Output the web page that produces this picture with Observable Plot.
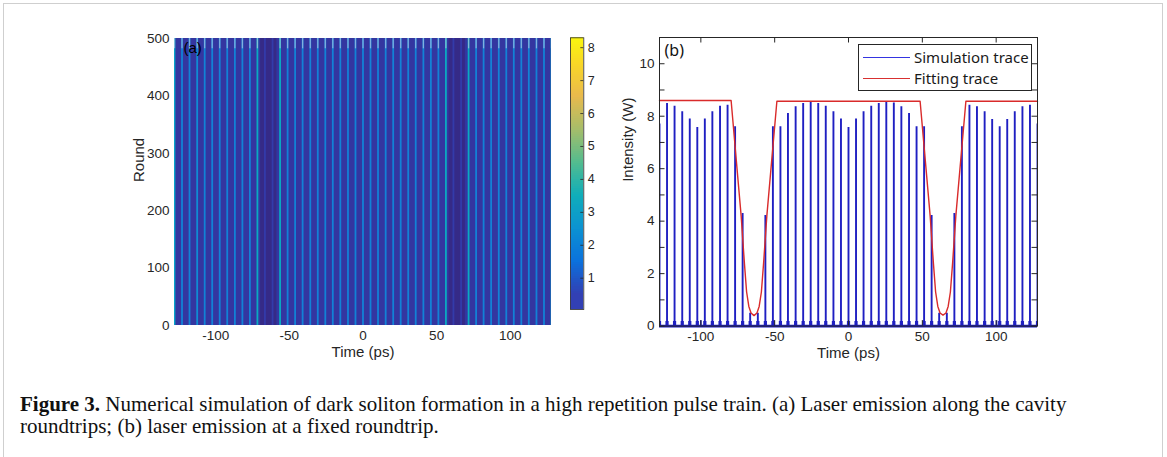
<!DOCTYPE html>
<html>
<head>
<meta charset="utf-8">
<script src="https://cdn.jsdelivr.net/npm/d3@7"></script>
<script src="https://cdn.jsdelivr.net/npm/@observablehq/plot@0.6"></script>
<style>
html, body { margin: 0; padding: 0; background: #fff; }
#fig { position: relative; width: 1167px; height: 457px; overflow: hidden; background: #fff; }
#border { position: absolute; left: 3px; top: 3px; width: 1158px; height: 480px; border: 1px solid #cfcfcf; }
.panel { position: absolute; }
#legend { position: absolute; left: 858px; top: 44px; width: 172px; height: 45px; border: 1px solid #262626; background: #fff;
  font-family: "Noto Sans", sans-serif; font-size: 15px; color: #1a1a1a; }
#legend .row { position: absolute; left: 4px; height: 20px; }
#legend .ln { position: absolute; left: 0; top: 10px; width: 47px; }
#legend .lt { position: absolute; left: 51px; top: 0; line-height: 20px; white-space: nowrap; }
#caption { position: absolute; left: 20px; top: 393px; font-family: "Liberation Serif", serif; font-size: 19.5px; line-height: 22px; color: #111; white-space: nowrap; }
</style>
</head>
<body>
<div id="fig">
  <div id="border"></div>
  <div id="left" class="panel" style="left:100px; top:20px;"></div>
  <div id="cbar" class="panel" style="left:555px; top:20px;"></div>
  <div id="right" class="panel" style="left:600px; top:20px;"></div>
  <div id="legend">
    <div class="row" style="top:2px;"><span class="ln" style="border-top:1.2px solid #3434e0;"></span><span class="lt">Simulation trace</span></div>
    <div class="row" style="top:23px;"><span class="ln" style="border-top:1.5px solid #d83030;"></span><span class="lt">Fitting trace</span></div>
  </div>
  <div id="caption"><span id="cap1"><b>Figure 3.</b> Numerical simulation of dark soliton formation in a high repetition pulse train. (a) Laser emission along the cavity</span><br><span>roundtrips; (b) laser emission at a fixed roundtrip.</span></div>
</div>
<script>
// ---------------- data ----------------
const timeDomain = [-128, 128];
const roundDomain = [0, 500];
const intensityDomain = [0, 11];
const colorDomain = [0.05, 8.3];

const xTicks = [-100, -50, 0, 50, 100];
const roundTicks = [0, 100, 200, 300, 400, 500];
const intensityLabelTicks = [0, 2, 4, 6, 8, 10];
const intensityMinorTicks = [0, 1, 2, 3, 4, 5, 6, 7, 8, 9, 10, 11];
const colorTicks = [1, 2, 3, 4, 5, 6, 7, 8];

// pulse centres (ps) and peak intensity (W) at the fixed roundtrip
const pulseTimes = [-128, -122.9, -117.8, -112.6, -107.5, -102.4, -97.3, -92.2, -87.0, -81.9,
  -76.8, -71.7, -66.6, -61.4, -56.3, -51.2, -46.1, -41.0, -35.8, -30.7,
  -25.6, -20.5, -15.4, -10.2, -5.1, 0, 5.1, 10.2, 15.4, 20.5,
  25.6, 30.7, 35.8, 41.0, 46.1, 51.2, 56.3, 61.4, 66.6, 71.7,
  76.8, 81.9, 87.0, 92.2, 97.3, 102.4, 107.5, 112.6, 117.8, 122.9, 128];
const pulsePeaks = [7.7, 8.48, 8.38, 8.17, 7.89, 7.57, 7.89, 8.17, 8.38, 8.42,
  7.6, 4.29, 0.49, 0.49, 4.22, 7.6, 7.6, 8.1, 8.36, 8.48,
  8.55, 8.48, 8.38, 8.17, 7.89, 7.57, 7.89, 8.17, 8.38, 8.48,
  8.55, 8.5, 8.36, 8.1, 7.6, 7.6, 4.22, 0.49, 0.49, 4.29,
  7.6, 8.42, 8.36, 8.17, 7.87, 7.6, 7.87, 8.17, 8.36, 8.42, 7.7];
// apparent colour level of each pulse stripe in the round map (a)
const stripeLevels = [3.0, 2.0, 2.0, 2.3, 2.0, 2.0, 2.0, 2.0, 2.0, 2.0,
  2.0, 3.3, 0.4, 0.4, 3.3, 2.0, 2.0, 2.0, 2.0, 2.0,
  2.0, 2.0, 2.0, 2.0, 2.0, 2.0, 2.0, 2.0, 2.0, 2.0,
  2.0, 2.0, 2.0, 2.0, 2.0, 2.0, 3.3, 0.4, 0.4, 3.3,
  2.0, 2.0, 2.0, 2.0, 2.0, 2.0, 2.0, 2.0, 2.0, 2.0, 3.0];
const pedestalHeight = 0.18;
// small satellite spikes
const spikeTimes = [-100, -50.6, 50.8, 100.3];
const spikePeaks = [0.2, 0.2, 0.2, 0.2];

// fitting trace
const fitTimes = [-128, -79.5, -75.5, -72.7, -70.5, -69, -67.5, -66, -64, -62, -60.5, -59, -57.5, -55.3, -52.5, -48.5,
  48.5, 52.5, 55.3, 57.5, 59, 60.5, 62, 64, 66, 67.5, 69, 70.5, 72.7, 75.5, 79.5, 128];
const fitValues = [8.6, 8.6, 6.0, 4.2, 2.4, 1.3, 0.75, 0.5, 0.4, 0.5, 0.75, 1.3, 2.4, 4.2, 6.0, 8.57,
  8.57, 6.0, 4.2, 2.4, 1.3, 0.75, 0.5, 0.42, 0.5, 0.75, 1.3, 2.4, 4.2, 6.0, 8.57, 8.57];

// background levels of the round map
const bandStarts = [-128, -69.5, 58.5];
const bandEnds = [128, -58.5, 69.5];
const bandLevels = [0.3, 0.05, 0.05];
const topRounds = [482, 500];

// parula colormap stops
const parula = ["#352a87", "#3243ba", "#0363e1", "#0d75dc", "#1485d4", "#0998d1", "#06a7c6", "#15b1b4",
  "#38b99e", "#65be86", "#92bf73", "#b7bd64", "#d9ba56", "#f8ba44", "#fcce2e", "#f5e41d", "#f9fb0e"];

// ---------------- tables ----------------
const pulses = pulseTimes.map((t, i) => ({t, h: pulsePeaks[i], lvl: stripeLevels[i]}));
const spikes = spikeTimes.map((t, i) => ({t, h: spikePeaks[i]}));
const fit = fitTimes.map((t, i) => ({t, v: fitValues[i]}));
const bands = bandStarts.map((t1, i) => ({t1, t2: bandEnds[i], r1: roundDomain[0], r2: roundDomain[1], lvl: bandLevels[i]}));

const ink = "#262626";
const blue = "#1f1fc2";
const red = "#d92b2b";
const tickFont = 13.5;
const labelFont = 15;
const colorScale = {type: "linear", domain: colorDomain, interpolate: d3.piecewise(d3.interpolateRgb, parula)};
const baseStyle = {background: "transparent", fontFamily: "'Liberation Sans', Arial, sans-serif", fontSize: tickFont + "px", color: ink, overflow: "visible"};
const fmt = d => String(d);

// ---------------- (a) round map ----------------
{
  const W = 470, H = 360, mL = 74, mR = 19, mT = 18, mB = 55;
  const chart = Plot.plot({
    width: W, height: H, marginLeft: mL, marginRight: mR, marginTop: mT, marginBottom: mB,
    style: baseStyle,
    x: {domain: timeDomain, label: null},
    y: {domain: roundDomain, label: null},
    color: colorScale,
    marks: [
      Plot.rect(bands, {x1: "t1", x2: "t2", y1: "r1", y2: "r2", fill: "lvl"}),
      Plot.ruleX(pulses, {x: "t", stroke: "lvl", strokeWidth: 1.8, clip: true}),
      Plot.ruleX(pulses.filter(d => d.lvl > 1), {x: "t", y1: topRounds[0], y2: topRounds[1], stroke: "#c9cfe6", strokeOpacity: 0.6, strokeWidth: 1.3, clip: true}),
      Plot.axisX(xTicks, {tickSize: 0, tickPadding: 5, tickFormat: fmt, label: null, fontSize: tickFont}),
      Plot.axisY(roundTicks, {tickSize: 0, tickPadding: 5, tickFormat: fmt, label: null, fontSize: tickFont}),
      Plot.text(["(a)"], {frameAnchor: "top-left", lineAnchor: "middle", dx: 9, dy: 10, textAnchor: "start", fontSize: 15, fill: "#000"}),
      Plot.text(["Time (ps)"], {frameAnchor: "bottom", lineAnchor: "middle", dy: 27, fontSize: labelFont, fill: ink}),
      Plot.text(["Round"], {frameAnchor: "left", lineAnchor: "middle", dx: -35, rotate: -90, fontSize: labelFont, fill: ink})
    ]
  });
  document.getElementById("left").appendChild(chart);
}

// ---------------- colour bar ----------------
{
  const W = 60, H = 310, mL = 15, mR = 31.7, mT = 17.3, mB = 21;
  const fw = W - mL - mR;
  const chart = Plot.plot({
    width: W, height: H, marginLeft: mL, marginRight: mR, marginTop: mT, marginBottom: mB,
    style: baseStyle,
    x: {domain: [0, 1], axis: null},
    y: {domain: colorDomain, axis: null},
    color: colorScale,
    marks: [
      Plot.raster({fill: (x, y) => y, width: 1, height: 272, imageRendering: "auto", clip: true}),
      Plot.frame({stroke: ink, strokeWidth: 0.8}),
      Plot.tickY(colorTicks, {insetLeft: fw - 3, stroke: ink, strokeWidth: 0.8}),
      Plot.axisY(colorTicks, {anchor: "right", tickSize: 0, tickPadding: 4, tickFormat: fmt, label: null, fontSize: 12.5})
    ]
  });
  document.getElementById("cbar").appendChild(chart);
}

// ---------------- (b) fixed roundtrip ----------------
{
  const W = 460, H = 360, mL = 59, mR = 23, mT = 17, mB = 54.4;
  const fw = W - mL - mR, fh = H - mT - mB, tk = 5.5;
  const chart = Plot.plot({
    width: W, height: H, marginLeft: mL, marginRight: mR, marginTop: mT, marginBottom: mB,
    style: baseStyle,
    x: {domain: timeDomain, label: null},
    y: {domain: intensityDomain, label: null},
    marks: [
      Plot.ruleX(pulses, {x: "t", y1: 0, y2: "h", stroke: blue, strokeWidth: 1.9, clip: true}),
      Plot.ruleX(pulses, {x: "t", y1: 0, y2: pedestalHeight, stroke: blue, strokeWidth: 3.2, clip: true}),
      Plot.ruleX(spikes, {x: "t", y1: 0, y2: "h", stroke: blue, strokeWidth: 1.6}),
      Plot.ruleY([0], {stroke: blue, strokeWidth: 2.6}),
      Plot.line(fit, {x: "t", y: "v", stroke: red, strokeWidth: 1.4}),
      Plot.frame({stroke: ink, strokeWidth: 1}),
      Plot.tickY(intensityMinorTicks, {insetRight: fw - tk, stroke: ink}),
      Plot.tickY(intensityMinorTicks, {insetLeft: fw - tk, stroke: ink}),
      Plot.tickX(xTicks, {insetBottom: fh - tk, stroke: ink}),
      Plot.tickX(xTicks, {insetTop: fh - tk, stroke: ink}),
      Plot.axisX(xTicks, {tickSize: 0, tickPadding: 5, tickFormat: fmt, label: null, fontSize: tickFont}),
      Plot.axisY(intensityLabelTicks, {tickSize: 0, tickPadding: 5, tickFormat: fmt, label: null, fontSize: tickFont}),
      Plot.text(["(b)"], {frameAnchor: "top-left", lineAnchor: "middle", dx: 5, dy: 13.5, textAnchor: "start", fontSize: 16, fontFamily: "'Noto Sans', sans-serif", fill: "#111"}),
      Plot.text(["Time (ps)"], {frameAnchor: "bottom", lineAnchor: "middle", dy: 27, fontSize: labelFont, fill: ink}),
      Plot.text(["Intensity (W)"], {frameAnchor: "left", lineAnchor: "middle", dx: -31.5, rotate: -90, fontSize: labelFont, fill: ink})
    ]
  });
  document.getElementById("right").appendChild(chart);
}

// fit caption line 1 to the reference width
{
  const cap = document.getElementById("caption");
  const line = document.getElementById("cap1");
  const w = line.getBoundingClientRect().width;
  if (w > 0) {
    let fs = 19.5 * 1111 / w;
    fs = Math.max(15, Math.min(21, fs));
    cap.style.fontSize = fs + "px";
  }
}
</script>
</body>
</html>
